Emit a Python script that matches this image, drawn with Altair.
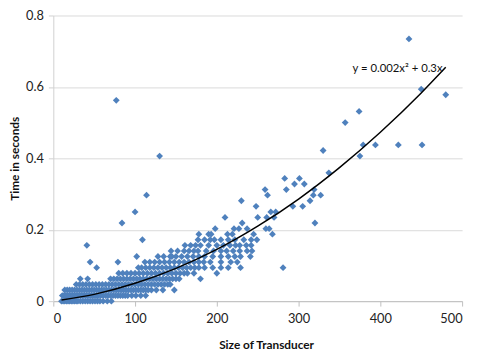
import altair as alt
import pandas as pd

# Scatter points: time (s) levels -> sizes of transducer
row_y = [0.0, 0.0156, 0.0313, 0.0469, 0.0625, 0.0781, 0.0938, 0.1094, 0.125, 0.1406,
         0.1563, 0.1719, 0.1875, 0.2031, 0.2188, 0.2344, 0.25, 0.2656, 0.2813, 0.2969,
         0.3125, 0.3281, 0.3438, 0.3594, 0.4063, 0.4219, 0.4375, 0.5, 0.5313, 0.5625,
         0.5781, 0.5938, 0.7344]
row_x = [
    [10, 12, 14, 16, 18, 20, 22, 24, 26, 28, 30, 33, 36, 39, 42, 45, 48, 51, 54, 57, 61, 66, 71],
    [11, 13, 15, 17, 19, 21, 23, 25, 27, 29, 31, 33, 35, 37, 39, 41, 43, 45, 47, 49, 51, 53, 55, 58,
     61, 64, 67, 70, 73, 76, 79, 82, 85, 88, 91, 96, 101, 107, 113],
    [14, 17, 20, 23, 26, 29, 32, 35, 38, 41, 44, 47, 50, 53, 56, 59, 62, 65, 68, 71, 74, 77, 80, 83,
     86, 89, 92, 95, 98, 101, 104, 107, 110, 113, 116, 120, 126, 134, 148],
    [28, 32, 36, 40, 44, 48, 52, 56, 60, 64, 68, 72, 76, 80, 84, 88, 92, 96, 100, 104, 108, 112, 116,
     120, 124, 128, 132, 136, 140, 143],
    [33, 42, 70, 74, 78, 82, 86, 90, 94, 98, 102, 106, 110, 114, 118, 122, 126, 130, 134, 138, 142,
     146, 150, 154, 180],
    [80, 85, 90, 95, 100, 105, 110, 115, 120, 125, 130, 135, 140, 145, 150, 155, 160, 164, 172, 200],
    [53, 104, 108, 113, 118, 123, 128, 133, 138, 143, 148, 153, 158, 163, 168, 173, 178, 185, 195,
     205, 214, 229, 281],
    [45, 79, 112, 118, 124, 130, 136, 142, 148, 154, 160, 166, 172, 178, 184, 192, 205, 217, 225],
    [102, 128, 135, 143, 145, 150, 157, 164, 171, 178, 185, 195, 205, 214, 222, 229, 241],
    [144, 152, 160, 166, 172, 177, 187, 196, 205, 212, 220, 228, 237, 243],
    [41, 161, 168, 174, 180, 190, 200, 208, 216, 223, 228, 236, 242],
    [109, 177, 185, 192, 197, 205, 214, 222, 233, 242, 249],
    [178, 190, 193, 213, 219, 245, 268],
    [198, 221, 227, 237, 260, 264],
    [84, 231, 320],
    [210, 250, 261, 270],
    [100, 266, 272],
    [248, 293, 305],
    [230, 314],
    [114, 262, 318, 327],
    [259, 285, 319],
    [295, 307],
    [283, 301],
    [337],
    [130, 375],
    [330],
    [379, 394, 422, 451],
    [357],
    [374],
    [77],
    [480],
    [450],
    [435],
]

# Trend curve
curve_x = [10, 50, 100, 150, 200, 250, 300, 350, 400, 450, 480]
curve_y = [0.003, 0.019, 0.050, 0.092, 0.145, 0.210, 0.286, 0.374, 0.473, 0.583, 0.655]

eq_label = ["y = 0.002x² + 0.3x"]
eq_x = [366]
eq_y = [0.651]

x_ticks = [0, 100, 200, 300, 400, 500]
y_ticks = [0, 0.2, 0.4, 0.6, 0.8]

pts = pd.DataFrame(
    [{"x": xv, "y": yv} for yv, xs in zip(row_y, row_x) for xv in xs]
)
curve = pd.DataFrame({"x": curve_x, "y": curve_y})
eq = pd.DataFrame({"x": eq_x, "y": eq_y, "t": eq_label})

FONT = "Lato"
xscale = alt.Scale(domain=[0, 500], nice=False, zero=True)
yscale = alt.Scale(domain=[0, 0.8], nice=False)

xaxis = alt.Axis(
    values=x_ticks, grid=False, title="Size of Transducer",
    domainColor="#bfbfbf", tickColor="#bfbfbf", tickSize=5,
    labelPadding=7, labelFontSize=13, labelColor="#222222", labelFont=FONT,
    titleFont=FONT, titleFontSize=12, titleFontWeight="bold", titleColor="#111111",
    titleX=216, titleY=44, titleAlign="center", titleBaseline="middle",
)
yaxis = alt.Axis(
    values=y_ticks, grid=True, gridColor="#d9d9d9", title="Time in seconds",
    format="~g",
    domainColor="#d0d0d0", tickColor="#d0d0d0", tickSize=5,
    labelPadding=5, labelFontSize=13, labelColor="#222222", labelFont=FONT,
    titleFont=FONT, titleFontSize=12, titleFontWeight="bold", titleColor="#111111",
    titleX=-39, titleY=145, titleAngle=-90, titleAlign="center", titleBaseline="middle",
)

points = alt.Chart(pts).mark_point(
    shape="diamond", filled=True, size=48, color="#4F81BD", opacity=1
).encode(
    x=alt.X("x:Q", scale=xscale, axis=xaxis),
    y=alt.Y("y:Q", scale=yscale, axis=yaxis),
)

line = alt.Chart(curve).mark_line(
    color="black", strokeWidth=1.5, interpolate="monotone"
).encode(
    x=alt.X("x:Q", scale=xscale),
    y=alt.Y("y:Q", scale=yscale),
)

text = alt.Chart(eq).mark_text(
    align="left", baseline="middle", font=FONT, fontSize=11.5, color="#111111"
).encode(
    x=alt.X("x:Q", scale=xscale),
    y=alt.Y("y:Q", scale=yscale),
    text="t:N",
)

chart = alt.layer(points, line, text).properties(
    width=415, height=290,
    autosize=alt.AutoSizeParams(type="none"),
    padding={"left": 46, "top": 5, "right": 7, "bottom": 49},
).configure_view(stroke=None)

chart.save("out.html", embed_options={"renderer": "svg", "actions": False})
